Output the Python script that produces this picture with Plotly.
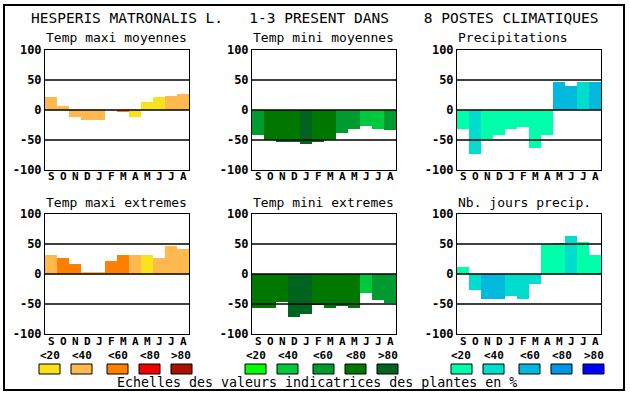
import plotly.graph_objects as go

W, H = 630, 394

months = ["S", "O", "N", "D", "J", "F", "M", "A", "M", "J", "J", "A"]
y_ticks = [-100, -50, 0, 50, 100]
legend_labels = ["<20", "<40", "<60", "<80", ">80"]

titles = ["Temp maxi moyennes", "Temp mini moyennes", "Precipitations",
          "Temp maxi extremes", "Temp mini extremes", "Nb. jours precip."]

tmax_moy = [22, 7, -11, -16, -16, 0, -4, -11, 13, 22, 23, 27]
tmin_moy = [-41, -50, -53, -54, -56, -53, -50, -38, -31, -27, -31, -33]
precip = [-31, -74, -48, -41, -31, -28, -63, -41, 47, 40, 47, 47]
tmax_ext = [31, 27, 16, 4, 4, 22, 32, 31, 31, 27, 46, 41]
tmin_ext = [-56, -56, -46, -72, -66, -52, -56, -54, -56, -32, -44, -49]
nb_jours = [12, -26, -42, -42, -37, -42, -17, 50, 52, 64, 54, 31]

# class of indicator value (0:<20, 1:<40, 2:<60, 3:<80, 4:>80)
tmax_moy_cls = [1, 1, 1, 1, 1, 1, 2, 0, 0, 0, 1, 1]
tmin_moy_cls = [2, 3, 3, 3, 4, 3, 3, 2, 2, 1, 1, 2]
precip_cls = [0, 1, 0, 0, 0, 0, 0, 0, 2, 2, 1, 2]
tmax_ext_cls = [1, 2, 2, 1, 1, 2, 2, 1, 0, 1, 1, 1]
tmin_ext_cls = [3, 3, 3, 4, 4, 3, 3, 3, 3, 1, 2, 2]
nb_jours_cls = [0, 1, 2, 2, 1, 1, 1, 0, 0, 1, 0, 0]

pal_orange = ["#F9E21B", "#FFB94F", "#FF8000", "#EE0000", "#AA1100"]
pal_green = ["#00FF00", "#00C83C", "#009B30", "#007800", "#006420"]
pal_blue = ["#00FFAA", "#00DDCC", "#00B9DD", "#0096E6", "#0000FF"]

series = [tmax_moy, tmin_moy, precip, tmax_ext, tmin_ext, nb_jours]
classes = [tmax_moy_cls, tmin_moy_cls, precip_cls, tmax_ext_cls, tmin_ext_cls, nb_jours_cls]
palettes = [pal_orange, pal_green, pal_blue, pal_orange, pal_green, pal_blue]

def px(x):
    return x / W

def py(y):
    return (H - y) / H

col_px = [(45, 189), (252, 396), (457, 601)]
row_px = [(50, 170), (214, 334)]

MONO = "DejaVu Sans Mono"

fig = go.Figure()
shapes = []
annotations = []

for i in range(6):
    r, c = divmod(i, 3)
    n = i + 1
    xa = "xaxis" if n == 1 else f"xaxis{n}"
    ya = "yaxis" if n == 1 else f"yaxis{n}"
    xr = "x" if n == 1 else f"x{n}"
    yr = "y" if n == 1 else f"y{n}"
    x0, x1 = col_px[c]
    y0, y1 = row_px[r]
    pal = palettes[i]
    fig.add_trace(go.Bar(
        x=list(range(12)), y=series[i],
        marker=dict(color=[pal[k] for k in classes[i]], line=dict(width=0)),
        xaxis=xr, yaxis=yr, showlegend=False, hoverinfo="skip",
    ))
    fig.layout[xa] = dict(
        domain=[px(x0), px(x1)], anchor=yr, range=[-0.5, 11.5],
        showticklabels=False, automargin=False,
        showgrid=False, zeroline=False, ticks="", showline=True, mirror=True,
        linecolor="black", linewidth=1, fixedrange=True,
    )
    fig.layout[ya] = dict(
        domain=[py(y1), py(y0)], anchor=xr, range=[-100, 100], automargin=False,
        tickmode="array", tickvals=y_ticks, ticktext=[str(v) for v in y_ticks],
        showgrid=False, zeroline=False, ticks="", showline=True, mirror=True,
        linecolor="black", linewidth=1, fixedrange=True,
        tickfont=dict(family=MONO, size=12, color="black", weight="bold"),
    )
    for v in (-50, 0, 50):
        shapes.append(dict(type="line", xref=f"{xr} domain", yref=yr,
                           x0=0, x1=1, y0=v, y1=v, layer="above",
                           line=dict(color="black", width=1.3)))
    # month labels placed on the subplot's x scale
    for k, m in enumerate(months):
        annotations.append(dict(text=m, xref=xr, yref="paper", x=k, y=py(y1 + 7),
                                xanchor="center", yanchor="middle", showarrow=False,
                                font=dict(family=MONO, size=11, color="black", weight="bold")))
    annotations.append(dict(text=titles[i], xref="paper", yref="paper",
                            x=px(x0 - 1), y=py(y0 - 12), xanchor="left", yanchor="middle",
                            showarrow=False, font=dict(family=MONO, size=13, color="black")))

# legend boxes
box_x = [[39, 71, 107, 139, 171], [245, 277, 313, 345, 377], [451, 483, 519, 551, 583]]
box_w = 21
leg_pals = [pal_orange, pal_green, pal_blue]
for g in range(3):
    for k in range(5):
        bx = box_x[g][k]
        shapes.append(dict(type="rect", xref="paper", yref="paper",
                           x0=px(bx), x1=px(bx + box_w), y0=py(374), y1=py(364),
                           fillcolor=leg_pals[g][k], line=dict(color="black", width=1)))
        annotations.append(dict(text=legend_labels[k], xref="paper", yref="paper",
                                x=px(bx + box_w / 2), y=py(355), xanchor="center", yanchor="middle",
                                showarrow=False,
                                font=dict(family=MONO, size=11, color="black", weight="bold")))

annotations.append(dict(text="Echelles des valeurs indicatrices des plantes en %",
                        xref="paper", yref="paper", x=px(317), y=py(382),
                        xanchor="center", yanchor="middle", showarrow=False,
                        font=dict(family=MONO, size=13.3, color="black")))

annotations.append(dict(text="HESPERIS MATRONALIS L.   1-3 PRESENT DANS    8 POSTES CLIMATIQUES",
                        xref="paper", yref="paper", x=px(314.5), y=py(18),
                        xanchor="center", yanchor="middle", showarrow=False,
                        font=dict(family=MONO, size=14.5, color="black")))

# outer frame
shapes.append(dict(type="rect", xref="paper", yref="paper",
                   x0=px(4), x1=px(624), y0=py(390), y1=py(5),
                   line=dict(color="black", width=2), layer="above"))

fig.update_layout(
    width=W, height=H, margin=dict(l=0, r=0, t=0, b=0, autoexpand=False),
    paper_bgcolor="white", plot_bgcolor="white",
    bargap=0, shapes=shapes, annotations=annotations,
)

css = ("var s='margin:0;padding:0;overflow:hidden;width:630px;height:394px;';"
       "document.documentElement.style.cssText=s;document.body.style.cssText=s;")
fig.write_html("out.html", config={"displayModeBar": False, "responsive": False},
               post_script=css)
